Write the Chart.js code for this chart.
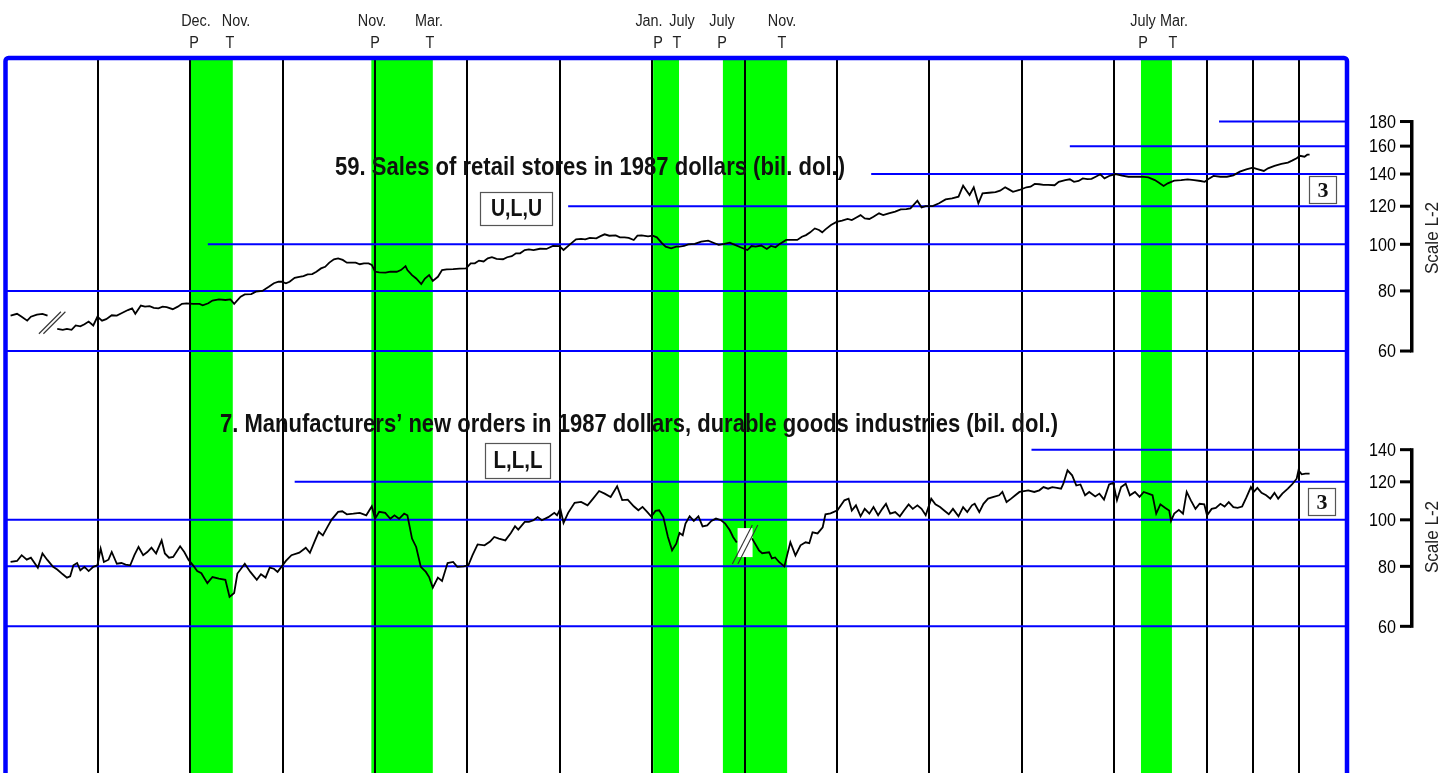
<!DOCTYPE html>
<html>
<head>
<meta charset="utf-8">
<script src="https://cdn.jsdelivr.net/npm/chart.js@4.4.1/dist/chart.umd.min.js"></script>
<style>
html,body{margin:0;padding:0;background:#fff;overflow:hidden;}
canvas{display:block;}
</style>
</head>
<body>
<canvas id="c" width="1443" height="790"></canvas>
<script>
// ---------------- DATA ----------------
// 59. Sales of retail stores in 1987 dollars (bil. dol.)  (null = series break)
const retailYears = [
1966.11,1966.25,1966.35,1966.47,1966.55,1966.68,1966.80,1966.91,1967.00,
1967.12,1967.24,1967.33,1967.43,1967.52,1967.62,1967.71,1967.80,1967.90,1967.99,
1968.09,1968.18,1968.30,1968.41,1968.51,1968.65,1968.74,1968.81,1968.93,
1969.02,1969.12,1969.21,1969.31,1969.40,1969.49,1969.62,1969.73,1969.82,1969.92,
1970.06,1970.20,1970.27,1970.39,1970.48,1970.62,1970.76,1970.87,1970.95,
1971.09,1971.18,1971.32,1971.42,1971.56,1971.70,1971.81,1971.91,1971.98,
1972.07,1972.15,1972.26,1972.36,1972.45,1972.54,1972.64,1972.73,1972.83,1972.92,
1973.01,1973.11,1973.20,1973.30,1973.39,1973.48,1973.58,1973.67,1973.76,1973.86,1973.93,
1974.00,1974.09,1974.23,1974.33,1974.47,1974.56,1974.66,1974.70,1974.80,1974.89,
1975.00,1975.08,1975.17,1975.25,1975.36,1975.45,1975.55,1975.69,1975.83,1975.97,
1976.07,1976.16,1976.25,1976.35,1976.44,1976.53,1976.63,1976.77,1976.86,1976.96,
1977.05,1977.14,1977.24,1977.33,1977.43,1977.57,1977.71,1977.85,1977.99,
1978.08,1978.22,1978.35,1978.46,1978.55,1978.65,1978.79,1978.88,1978.97,
1979.07,1979.21,1979.30,1979.40,1979.49,1979.60,1979.68,1979.77,1979.91,
1980.01,1980.10,1980.20,1980.29,1980.41,1980.52,1980.59,1980.69,1980.78,1980.92,
1981.06,1981.21,1981.35,1981.44,1981.56,1981.68,1981.79,1981.91,
1982.06,1982.15,1982.24,1982.36,1982.48,1982.57,1982.67,1982.76,1982.90,
1983.05,1983.14,1983.24,1983.33,1983.42,1983.52,1983.61,1983.68,1983.75,1983.87,1983.99,
1984.11,1984.23,1984.32,1984.42,1984.51,1984.60,1984.70,1984.79,1984.91,
1985.00,1985.12,1985.26,1985.38,1985.50,1985.59,1985.74,1985.83,1985.92,
1986.07,1986.21,1986.35,1986.49,1986.63,1986.73,1986.82,1986.87,1986.96,
1987.06,1987.15,1987.29,1987.43,1987.53,1987.64,1987.72,1987.81,1987.95,
1988.10,1988.19,1988.28,1988.38,1988.47,1988.57,1988.71,1988.80,1988.94,
1989.04,1989.13,1989.23,1989.32,1989.42,1989.51,1989.60,1989.70,1989.79,1989.89,
1990.03,1990.17,1990.31,1990.46,1990.60,1990.74,1990.88,1990.97,
1991.07,1991.16,1991.30,1991.45,1991.59,1991.73,1991.87,1991.96,
1992.06,1992.15,1992.30,1992.44,1992.58,1992.72,1992.86,
1993.00,1993.10,1993.24,1993.33,1993.47,1993.62,1993.76,1993.85,1993.95,
1994.02,1994.12,1994.18,1994.23];
const retailValues = [
71.1,71.7,70.7,69.4,70.7,71.4,71.7,71.1,null,
66.7,66.4,66.7,66.4,67.8,67.5,68.2,69.1,67.8,70.7,
69.4,69.9,71.2,71.1,71.9,73.0,73.6,71.7,74.6,
74.2,74.4,73.8,73.6,74.2,74.0,73.3,74.2,75.2,75.4,
75.2,75.2,74.7,75.4,76.4,76.8,76.6,76.8,75.2,
77.8,78.7,78.8,79.7,80.0,81.6,83.0,83.6,83.6,
83.0,83.6,85.2,85.6,85.9,86.6,86.7,87.7,89.1,89.8,
91.6,93.1,93.5,92.8,91.6,91.6,91.6,90.9,91.3,91.3,90.6,
87.7,87.4,87.3,87.7,87.7,88.4,90.1,88.4,86.3,84.9,
82.7,84.9,86.3,83.9,85.6,88.4,88.7,88.8,89.0,89.1,
91.3,91.3,92.5,92.1,93.5,94.0,93.3,93.1,94.0,94.5,
95.8,95.8,97.3,97.6,97.3,97.9,97.8,99.2,99.1,
97.3,100.0,102.4,102.6,102.4,103.1,102.9,104.0,104.9,
104.2,104.4,103.4,103.4,103.1,102.1,104.2,104.4,103.9,
104.2,103.4,100.8,98.9,98.1,98.9,98.9,99.2,100.0,100.2,
101.3,101.8,100.5,99.7,100.2,100.8,99.7,98.6,
97.3,99.2,98.9,99.4,97.8,99.2,98.6,100.2,102.1,
102.1,102.1,103.7,104.5,105.9,107.9,107.1,105.9,107.4,109.7,111.3,
112.0,112.9,112.3,113.7,115.0,113.2,112.9,114.1,116.0,
115.0,116.0,116.9,118.2,118.4,118.8,123.2,119.3,120.1,
120.1,121.7,124.0,124.6,125.6,132.4,128.6,126.6,131.4,
121.7,127.6,128.0,128.4,129.3,131.4,130.1,128.6,129.7,
131.4,131.8,133.5,133.3,132.9,132.9,132.7,134.9,136.0,
136.5,134.9,135.4,137.1,136.6,136.8,138.2,139.8,137.1,138.7,
140.0,138.9,138.2,138.2,138.2,137.8,136.0,134.3,
132.2,133.9,135.6,136.0,136.5,136.0,135.4,134.9,
137.1,138.7,138.2,138.2,139.1,141.6,143.2,
144.3,143.4,142.1,143.9,145.5,147.0,147.9,149.3,151.0,
152.8,152.1,153.6,153.6];

// 7. Manufacturers' new orders in 1987 dollars, durable goods industries (bil. dol.)
const ordersYears = [
1966.11,1966.25,1966.35,1966.46,1966.55,1966.70,1966.80,1966.91,
1967.03,1967.12,1967.24,1967.33,1967.40,1967.47,1967.55,1967.62,1967.71,1967.80,1967.90,1967.99,
1968.06,1968.13,1968.23,1968.30,1968.41,1968.51,1968.60,1968.70,1968.79,1968.88,1968.98,
1969.07,1969.16,1969.26,1969.38,1969.45,1969.54,1969.63,1969.78,1969.87,1969.96,
1970.06,1970.15,1970.24,1970.37,1970.48,1970.62,1970.76,1970.85,1970.95,
1971.02,1971.18,1971.30,1971.44,1971.53,1971.63,1971.72,1971.81,1971.89,1971.98,
1972.07,1972.19,1972.36,1972.50,1972.59,1972.69,1972.78,1972.87,1972.97,
1973.06,1973.20,1973.29,1973.39,1973.53,1973.67,1973.81,1973.93,
1974.00,1974.09,1974.22,1974.33,1974.42,1974.52,1974.63,1974.70,1974.80,1974.89,1974.99,
1975.10,1975.17,1975.25,1975.36,1975.45,1975.57,1975.69,1975.78,1975.92,
1976.02,1976.11,1976.22,1976.37,1976.49,1976.58,1976.68,1976.82,1976.94,
1977.03,1977.10,1977.24,1977.33,1977.43,1977.52,1977.61,1977.75,1977.88,1977.94,
1978.01,1978.08,1978.18,1978.32,1978.46,1978.60,1978.72,1978.85,1978.97,
1979.10,1979.24,1979.35,1979.47,1979.60,1979.70,1979.79,1979.89,1979.98,
1980.07,1980.15,1980.24,1980.34,1980.43,1980.52,1980.59,1980.66,1980.72,1980.81,1980.90,
1981.00,1981.09,1981.19,1981.28,1981.38,1981.49,1981.58,1981.68,1981.75,1981.83,1982.00,
1982.16,1982.31,1982.38,1982.53,1982.59,1982.66,1982.75,1982.86,1982.99,
1983.10,1983.21,1983.32,1983.40,1983.47,1983.58,1983.69,1983.75,1983.86,
1984.01,1984.16,1984.25,1984.32,1984.41,1984.51,1984.60,1984.70,1984.79,1984.89,1984.98,
1985.06,1985.15,1985.26,1985.36,1985.45,1985.55,1985.64,1985.74,1985.83,1985.92,
1986.04,1986.13,1986.23,1986.32,1986.42,1986.51,1986.63,1986.73,1986.82,1986.92,1986.98,
1987.08,1987.17,1987.27,1987.39,1987.51,1987.58,1987.67,1987.77,1987.86,1987.95,
1988.05,1988.14,1988.27,1988.38,1988.47,1988.57,1988.66,1988.76,1988.85,1988.90,1988.99,
1989.09,1989.18,1989.27,1989.37,1989.46,1989.59,1989.68,1989.78,1989.89,1989.98,
1990.06,1990.15,1990.25,1990.34,1990.45,1990.55,1990.64,1990.74,1990.83,1990.91,
1991.00,1991.10,1991.19,1991.23,1991.30,1991.40,1991.49,1991.57,1991.66,1991.76,1991.85,1991.95,
1992.01,1992.11,1992.20,1992.30,1992.39,1992.48,1992.58,1992.67,1992.77,1992.86,1992.96,
1993.02,1993.10,1993.19,1993.29,1993.38,1993.47,1993.55,1993.64,1993.76,1993.85,1993.95,1993.99,
1994.06,1994.14,1994.23];
const ordersValues = [
81.7,82.1,84.4,82.6,83.4,79.5,85.1,82.4,
79.8,78.8,77.0,75.8,76.3,80.4,81.3,78.5,79.8,78.2,79.8,80.4,
87.1,81.7,82.6,85.7,81.0,81.3,80.7,80.4,84.4,87.8,84.4,
85.7,87.5,85.1,90.6,85.1,83.4,83.7,88.1,85.7,82.6,
80.4,78.2,77.4,73.8,76.0,75.4,75.0,69.1,70.4,
77.3,81.0,77.9,75.0,77.0,75.8,79.5,79.1,77.9,80.0,
82.1,84.4,85.4,87.5,85.4,90.1,94.4,92.8,96.7,
100.1,103.9,104.2,102.7,103.0,103.4,102.2,106.7,
100.5,103.9,103.4,100.5,102.2,100.5,103.0,102.2,91.4,87.8,79.8,
77.9,76.0,72.2,75.8,74.6,81.3,81.7,79.8,80.0,
80.4,84.4,88.9,88.5,90.1,92.1,91.4,90.6,93.9,
97.0,95.4,99.0,99.0,99.8,101.3,99.8,101.3,103.4,102.2,
105.5,98.5,103.4,108.5,109.0,107.2,110.7,114.8,113.4,
111.6,117.5,109.9,110.2,106.7,104.7,106.4,103.9,101.6,
104.4,104.7,101.3,92.1,86.4,89.2,93.9,92.9,98.2,101.7,99.5,
101.7,96.9,97.4,99.5,100.6,99.8,98.2,95.1,92.1,89.7,null,
91.5,86.4,85.2,85.6,83.1,83.5,81.6,80.0,89.8,
84.3,88.5,89.8,89.4,94.2,93.7,96.5,102.7,103.2,
104.7,109.8,110.7,104.6,107.2,101.7,105.4,103.0,106.3,102.2,105.4,
108.0,103.0,103.8,101.7,104.6,107.7,105.4,107.2,105.4,102.2,
110.7,107.7,106.3,104.6,102.7,105.4,101.7,106.3,103.8,107.2,108.0,
103.8,108.0,110.7,111.6,112.5,114.3,108.9,110.7,112.5,114.3,
114.8,115.2,114.3,115.2,117.0,116.1,117.0,116.6,116.1,118.9,126.8,
123.8,117.9,118.5,112.5,114.3,111.9,113.4,110.2,118.5,119.3,
109.8,117.0,118.9,112.5,114.3,111.6,114.3,113.4,112.5,103.0,
107.7,106.0,104.6,99.5,103.0,104.9,103.0,114.3,109.8,105.4,108.0,107.7,
102.2,105.4,105.9,108.0,106.6,108.9,106.3,105.9,106.6,111.2,117.0,
114.3,116.6,113.8,112.5,110.7,113.8,110.7,113.4,116.1,118.5,121.8,126.8,
124.4,124.8,124.8];

// Series break points (year, level) for the "//" markers
const retailBreak = [1967.01, 68.7];
const ordersBreak = [1982.01, 88.8];

// Recessions (shaded), peak label / trough label
const recessionStart = [1970.00, 1973.92, 1980.02, 1981.53, 1990.58];
const recessionEnd   = [1970.92, 1975.25, 1980.58, 1982.92, 1991.25];
const peakMonths   = ['Dec.', 'Nov.', 'Jan.', 'July', 'July'];
const troughMonths = ['Nov.', 'Mar.', 'July', 'Nov.', 'Mar.'];

// Time axis
const X_MIN = 1966, X_MAX = 1995.04;
const gridYears = [1968,1970,1972,1974,1976,1978,1980,1982,1984,1986,1988,1990,1992,1993,1994];

// Value axes (ratio scale L-2)
const topTicks = [60, 80, 100, 120, 140, 160, 180];
const topGridFrom = [1966, 1966, 1970.38, 1978.18, 1984.74, 1989.04, 1992.27];
const bottomTicks = [60, 80, 100, 120, 140];
const bottomGridFrom = [1966, 1966, 1966, 1972.26, 1988.21];

// ---------------- CHART ----------------
const SANS = '"Liberation Sans", Arial, Helvetica, sans-serif';
const SERIF = '"Liberation Serif", "Times New Roman", serif';
const BLUE = '#0000ff';
const GREEN = '#00ff00';

function pts(xs, ys) { return xs.map((x, i) => ({x: x, y: ys[i]})); }

const datasets = [
  {data: pts(retailYears, retailValues), yAxisID: 'yTop', borderColor: '#000', borderWidth: 1.8},
  {data: pts(ordersYears, ordersValues), yAxisID: 'yBot', borderColor: '#000', borderWidth: 1.8}
];
topTicks.forEach((v, i) => datasets.push({
  data: [{x: topGridFrom[i], y: v}, {x: X_MAX, y: v}], yAxisID: 'yTop', borderColor: BLUE, borderWidth: 2
}));
bottomTicks.forEach((v, i) => datasets.push({
  data: [{x: bottomGridFrom[i], y: v}, {x: X_MAX, y: v}], yAxisID: 'yBot', borderColor: BLUE, borderWidth: 2
}));

// text helper: draws text with horizontal compression sx (narrow-face look)
function txt(ctx, text, x, y, font, opts) {
  opts = opts || {};
  ctx.save();
  ctx.font = font;
  ctx.fillStyle = opts.color || '#1a1a1a';
  ctx.textBaseline = opts.baseline || 'alphabetic';
  ctx.textAlign = opts.align || 'left';
  let sx = opts.sx || 1;
  if (opts.width) sx = opts.width / ctx.measureText(text).width;
  ctx.translate(x, y);
  if (opts.rotate) ctx.rotate(opts.rotate);
  ctx.scale(sx, 1);
  ctx.fillText(text, 0, 0);
  ctx.restore();
}
function labelBox(ctx, text, x0, y0, w, h, font, opts) {
  ctx.save();
  ctx.fillStyle = '#fff';
  ctx.fillRect(x0, y0, w, h);
  ctx.strokeStyle = '#555'; ctx.lineWidth = 1.2;
  ctx.strokeRect(x0 + 0.5, y0 + 0.5, w, h);
  ctx.restore();
  txt(ctx, text, x0 + w / 2 + 0.5, y0 + h / 2 + (opts.dy || 0), font,
      Object.assign({align: 'center', baseline: 'middle', color: '#111'}, opts));
}

function drawBreak(ctx, chart, brk, scaleId, dx, dy, gap) {
  const x = chart.scales.x.getPixelForValue(brk[0]);
  const y = chart.scales[scaleId].getPixelForValue(brk[1]);
  ctx.save();
  ctx.strokeStyle = '#333'; ctx.lineWidth = 1.1;
  [-gap / 2, gap / 2].forEach(o => {
    ctx.beginPath();
    ctx.moveTo(x + o - dx, y + dy);
    ctx.lineTo(x + o + dx, y - dy);
    ctx.stroke();
  });
  ctx.restore();
}

function drawScale(ctx, scale, ticks, xLine, titleY) {
  const yTopPx = scale.getPixelForValue(ticks[ticks.length - 1]);
  const yBotPx = scale.getPixelForValue(ticks[0]);
  ctx.save();
  ctx.fillStyle = '#000';
  ctx.fillRect(xLine, yTopPx - 1.5, 3.5, yBotPx - yTopPx + 3);
  ticks.forEach(v => {
    const y = scale.getPixelForValue(v);
    ctx.fillRect(xLine - 10, y - 1.5, 11, 3);
  });
  ctx.restore();
  ticks.forEach(v => {
    const y = scale.getPixelForValue(v);
    txt(ctx, String(v), xLine - 14, y + 1, '19px ' + SANS, {align: 'right', baseline: 'middle', sx: 0.85, color: '#000'});
  });
  txt(ctx, 'Scale L-2', 1433, titleY, '18px ' + SANS,
      {align: 'center', baseline: 'middle', rotate: -Math.PI / 2, sx: 0.95, color: '#222'});
}

const deco = {
  id: 'deco',
  beforeDraw(chart) {
    const {ctx, chartArea: a} = chart;
    const x = chart.scales.x;
    ctx.save();
    ctx.fillStyle = '#fff';
    ctx.fillRect(0, 0, chart.width, chart.height);
    ctx.fillStyle = GREEN;
    for (let i = 0; i < recessionStart.length; i++) {
      const x0 = x.getPixelForValue(recessionStart[i]);
      const x1 = x.getPixelForValue(recessionEnd[i]);
      ctx.fillRect(x0, a.top, x1 - x0, a.bottom - a.top);
    }
    ctx.restore();
  },
  beforeDatasetsDraw(chart) {
    const ctx = chart.ctx;
    const x = chart.scales.x.getPixelForValue(ordersBreak[0]);
    const y = chart.scales.yBot.getPixelForValue(ordersBreak[1]);
    ctx.save();
    ctx.fillStyle = '#fff';
    ctx.fillRect(x - 7.5, y - 16.5, 15, 29);
    ctx.restore();
  },
  afterDatasetsDraw(chart) {
    const ctx = chart.ctx;
    drawBreak(ctx, chart, retailBreak, 'yTop', 11, 11, 4.5);
    drawBreak(ctx, chart, ordersBreak, 'yBot', 10, 19.5, 5.5);
  },
  afterDraw(chart) {
    const {ctx, chartArea: a} = chart;
    // blue frame
    ctx.save();
    ctx.strokeStyle = BLUE;
    ctx.lineWidth = 4.5;
    ctx.lineJoin = 'round';
    ctx.beginPath();
    ctx.moveTo(a.left, a.bottom + 20);
    ctx.lineTo(a.left, a.top + 3);
    ctx.arcTo(a.left, a.top, a.left + 3, a.top, 3);
    ctx.lineTo(a.right - 3, a.top);
    ctx.arcTo(a.right, a.top, a.right, a.top + 3, 3);
    ctx.lineTo(a.right, a.bottom + 20);
    ctx.stroke();
    ctx.restore();

    // recession labels
    const f = '16px ' + SANS;
    const o = {align: 'center', sx: 0.9, color: '#222'};
    const mPos = [[196, 236], [372, 429], [649, 682], [722, 782], [1143, 1174]];
    const lPos = [[194, 230], [375, 430], [658, 677], [722, 782], [1143, 1173]];
    for (let i = 0; i < peakMonths.length; i++) {
      txt(ctx, peakMonths[i], mPos[i][0], 26, f, o);
      txt(ctx, troughMonths[i], mPos[i][1], 26, f, o);
      txt(ctx, 'P', lPos[i][0], 48, f, o);
      txt(ctx, 'T', lPos[i][1], 48, f, o);
    }

    // titles
    const tf = 'bold 25px ' + SANS;
    txt(ctx, '59. Sales of retail stores in 1987 dollars (bil. dol.)', 335, 175, tf, {width: 510, color: '#111'});
    txt(ctx, '7. Manufacturers\u2019 new orders in 1987 dollars, durable goods industries (bil. dol.)', 220, 432, tf, {width: 838, color: '#111'});

    // boxes
    labelBox(ctx, 'U,L,U', 480, 192, 72, 33, 'bold 23px ' + SANS, {width: 51, dy: 1.5});
    labelBox(ctx, 'L,L,L', 485, 443, 65, 35, 'bold 23px ' + SANS, {width: 49, dy: 1.5});
    labelBox(ctx, '3', 1309, 176, 27, 27, 'bold 22px ' + SERIF, {dy: 1.5});
    labelBox(ctx, '3', 1308, 488, 27, 27, 'bold 22px ' + SERIF, {dy: 1.5});

    // right-hand ratio scales
    drawScale(ctx, chart.scales.yTop, topTicks, 1410, 238);
    drawScale(ctx, chart.scales.yBot, bottomTicks, 1410, 537);
  }
};

new Chart(document.getElementById('c'), {
  type: 'line',
  data: {datasets: datasets},
  options: {
    responsive: false,
    animation: false,
    events: [],
    layout: {padding: {left: 5.5, top: 58, right: 96, bottom: 5}},
    plugins: {legend: {display: false}, tooltip: {enabled: false}},
    elements: {point: {radius: 0}, line: {tension: 0}},
    scales: {
      x: {
        type: 'linear', min: X_MIN, max: X_MAX,
        grid: {color: '#000', lineWidth: 2, drawTicks: false},
        border: {display: false},
        ticks: {display: false},
        afterBuildTicks: s => { s.ticks = gridYears.map(v => ({value: v})); }
      },
      yTop: {type: 'logarithmic', display: false, min: 7.515, max: 243.97},
      yBot: {type: 'logarithmic', display: false, min: 28.03, max: 916.3}
    }
  },
  plugins: [deco]
});
</script>
</body>
</html>
